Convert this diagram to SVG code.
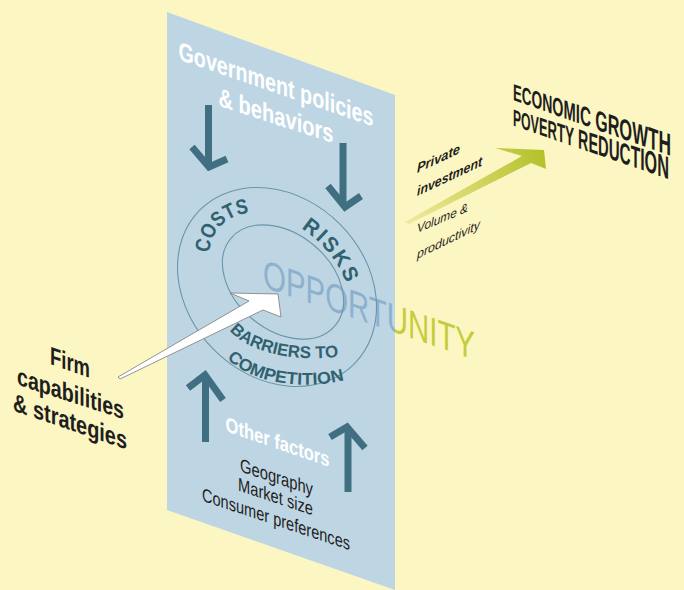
<svg xmlns="http://www.w3.org/2000/svg" width="684" height="590" viewBox="0 0 684 590">
<defs>
<style>
.bg{fill:#FCF6C2}
.panel{fill:#BED6E4}
.ring{fill:none;stroke:#6B95AA;stroke-width:1.1}
.teal{fill:none;stroke:#3F6F80;stroke-width:7;stroke-linejoin:miter;stroke-miterlimit:10}
.f{font-family:"Liberation Sans",Arial,sans-serif}
.wt{font-weight:700;fill:#FFFFFF}
.rt{font-weight:700;fill:#30616F}
.bk{fill:#1E1E1E}
.b{font-weight:700}
.it{font-style:italic}
.opp{font-size:40px}
</style>
<linearGradient id="gArrow" x1="405" y1="222" x2="545" y2="155" gradientUnits="userSpaceOnUse">
<stop offset="0" stop-color="#EEEBA0"/>
<stop offset="1" stop-color="#B5C12A"/>
</linearGradient>
<clipPath id="clipIn"><rect x="0" y="0" width="395" height="590"/></clipPath>
<clipPath id="clipOut"><rect x="395" y="0" width="289" height="590"/></clipPath>
<path id="pCosts" d="M210,271 A83,57 45 0 1 267,214"/>
<path id="pRisks" d="M279.3,217.3 A83,57 45 0 1 351.2,309"/>
<path id="pBarriers" d="M226,325 C240,350 290,364 345,356"/>
<path id="pComp" d="M222,352 C240,380 300,394 352,378"/>
</defs>

<rect class="bg" x="0" y="0" width="684" height="590"/>

<g id="panel">
<polygon class="panel" points="167,12 395,95 395,590 167,510"/>
</g>

<g id="government-policies">
<text class="f wt" font-size="20" text-anchor="middle" textLength="195" lengthAdjust="spacingAndGlyphs" transform="translate(276,93) skewY(19) scale(1,1.3)">Government policies</text>
<text class="f wt" font-size="20" text-anchor="middle" textLength="115" lengthAdjust="spacingAndGlyphs" transform="translate(276,124.5) skewY(18) scale(1,1.3)">&amp; behaviors</text>
</g>

<g id="opportunity">
<g clip-path="url(#clipIn)">
<text class="f opp" fill="#8DB1CC" textLength="212" lengthAdjust="spacingAndGlyphs" transform="translate(263,287) skewY(19)">OPPORTUNITY</text>
</g>
<g clip-path="url(#clipOut)">
<text class="f opp" fill="#C4CD3C" textLength="212" lengthAdjust="spacingAndGlyphs" transform="translate(263,287) skewY(19)">OPPORTUNITY</text>
</g>
</g>

<g id="ring">
<ellipse class="ring" cx="277" cy="287" rx="109" ry="89" transform="rotate(45 277 287)"/>
<ellipse class="ring" cx="283" cy="282" rx="68" ry="48" transform="rotate(40 283 282)"/>
<text class="f rt" font-size="21"><textPath href="#pCosts" startOffset="50%" text-anchor="middle" textLength="62" lengthAdjust="spacingAndGlyphs">COSTS</textPath></text>
<text class="f rt" font-size="21" letter-spacing="2"><textPath href="#pRisks" startOffset="50%" text-anchor="middle" textLength="74" lengthAdjust="spacingAndGlyphs">RISKS</textPath></text>
<text class="f rt" font-size="17"><textPath href="#pBarriers" startOffset="50%" text-anchor="middle" textLength="116" lengthAdjust="spacingAndGlyphs">BARRIERS TO</textPath></text>
<text class="f rt" font-size="17"><textPath href="#pComp" startOffset="50%" text-anchor="middle" textLength="124" lengthAdjust="spacingAndGlyphs">COMPETITION</textPath></text>
</g>

<g id="firm-capabilities">
<text class="f bk b" font-size="19.5" text-anchor="middle" textLength="40" lengthAdjust="spacingAndGlyphs" transform="translate(70,371) skewY(19) scale(1,1.3)">Firm</text>
<text class="f bk b" font-size="19.5" text-anchor="middle" textLength="107" lengthAdjust="spacingAndGlyphs" transform="translate(70.5,402) skewY(18) scale(1,1.3)">capabilities</text>
<text class="f bk b" font-size="19.5" text-anchor="middle" textLength="114" lengthAdjust="spacingAndGlyphs" transform="translate(70,430) skewY(19) scale(1,1.3)">&amp; strategies</text>
</g>

<g id="other-factors">
<text class="f wt" font-size="16" text-anchor="middle" textLength="104" lengthAdjust="spacingAndGlyphs" transform="translate(277.5,449) skewY(19) scale(1,1.3)">Other factors</text>
<text class="f bk" font-size="15" text-anchor="middle" textLength="73" lengthAdjust="spacingAndGlyphs" transform="translate(276.5,483.5) skewY(18.5) scale(1,1.25)">Geography</text>
<text class="f bk" font-size="15" text-anchor="middle" textLength="75" lengthAdjust="spacingAndGlyphs" transform="translate(275.5,503) skewY(18.5) scale(1,1.25)">Market size</text>
<text class="f bk" font-size="15" text-anchor="middle" textLength="148" lengthAdjust="spacingAndGlyphs" transform="translate(276,525.5) skewY(18.5) scale(1,1.25)">Consumer preferences</text>
</g>

<g id="private-investment">
<text class="f bk b it" font-size="13.5" textLength="43" lengthAdjust="spacingAndGlyphs" transform="translate(417,173) skewY(-25)">Private</text>
<text class="f bk b it" font-size="13.5" textLength="65" lengthAdjust="spacingAndGlyphs" transform="translate(417,196) skewY(-25)">investment</text>
<text class="f bk it" font-size="12.5" textLength="51" lengthAdjust="spacingAndGlyphs" transform="translate(417,233) skewY(-23)">Volume &amp;</text>
<text class="f bk it" font-size="12.5" textLength="63" lengthAdjust="spacingAndGlyphs" transform="translate(417,259) skewY(-26)">productivity</text>
</g>

<g id="economic-growth">
<text class="f bk b" textLength="158" lengthAdjust="spacingAndGlyphs" transform="translate(513,100) skewY(19.5)"><tspan font-size="23.5">E</tspan><tspan font-size="24">C</tspan><tspan font-size="24.6">O</tspan><tspan font-size="25.1">N</tspan><tspan font-size="25.6">O</tspan><tspan font-size="26.2">M</tspan><tspan font-size="26.7">I</tspan><tspan font-size="27.3">C</tspan><tspan font-size="27.8"> </tspan><tspan font-size="28.4">G</tspan><tspan font-size="28.9">R</tspan><tspan font-size="29.4">O</tspan><tspan font-size="30">W</tspan><tspan font-size="30.5">T</tspan><tspan font-size="31">H</tspan></text>
<text class="f bk b" textLength="156" lengthAdjust="spacingAndGlyphs" transform="translate(513,125.5) skewY(19)"><tspan font-size="23.5">P</tspan><tspan font-size="24">O</tspan><tspan font-size="24.5">V</tspan><tspan font-size="25">E</tspan><tspan font-size="25.6">R</tspan><tspan font-size="26.1">T</tspan><tspan font-size="26.7">Y</tspan><tspan font-size="27.2"> </tspan><tspan font-size="27.8">R</tspan><tspan font-size="28.3">E</tspan><tspan font-size="28.8">D</tspan><tspan font-size="29.4">U</tspan><tspan font-size="29.9">C</tspan><tspan font-size="30.4">T</tspan><tspan font-size="31">I</tspan><tspan font-size="31.5">O</tspan><tspan font-size="32">N</tspan></text>
</g>

<g id="connectors">
<path class="teal" d="M208.5,105 V165"/>
<path class="teal" d="M192,147 L209,167 L227,159"/>
<path class="teal" d="M343,143 V205"/>
<path class="teal" d="M328,186 L345,207 L361,196"/>
<path class="teal" d="M205.5,442 V378"/>
<path class="teal" d="M188,388 L205,375 L223,400"/>
<path class="teal" d="M348,492 V430"/>
<path class="teal" d="M330,437 L347,427 L365,448"/>
<polygon points="118,377 249,301 230,293 278,294 281,317 263,310 120,379" fill="#FFFFFF" stroke="#7A7A7A" stroke-width="0.8" stroke-linejoin="miter"/>
<polygon points="405,222 522,156 495,148 544,150 546,169 531,163 409,224" fill="url(#gArrow)"/>
</g>
</svg>
